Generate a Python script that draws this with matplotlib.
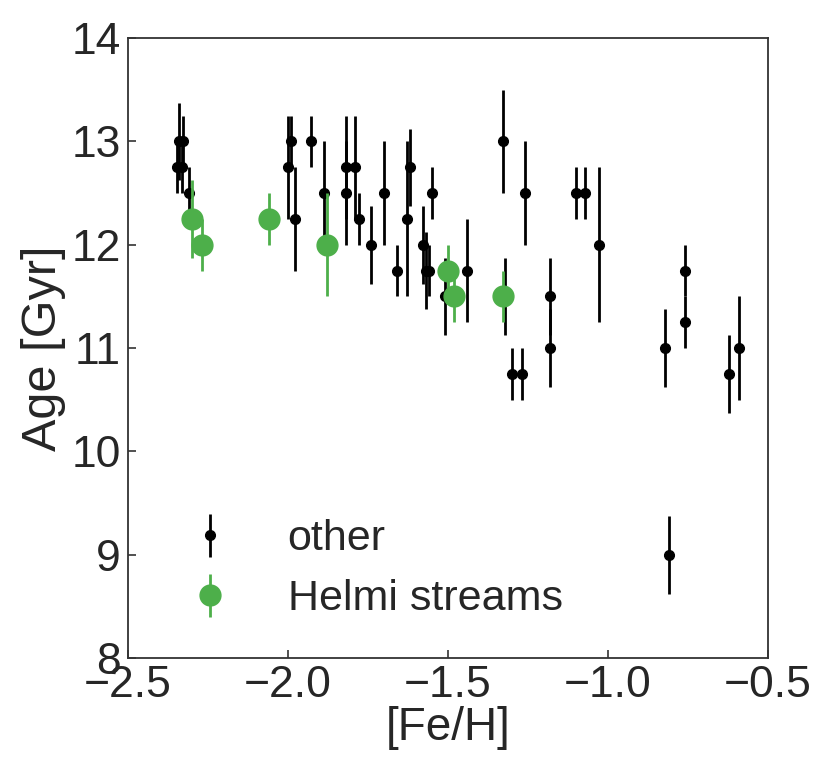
import matplotlib
matplotlib.use("Agg")
import matplotlib.pyplot as plt

# "other" globular clusters
other_feh = [-2.346, -2.330, -2.342, -2.328, -2.309,
             -1.999, -1.990, -1.979, -1.929, -1.888,
             -1.820, -1.820, -1.789, -1.778, -1.739,
             -1.700, -1.659, -1.629, -1.620, -1.579,
             -1.570, -1.559, -1.550, -1.509, -1.440,
             -1.329, -1.320, -1.299, -1.269, -1.260,
             -1.180, -1.180, -1.100, -1.070, -1.029,
             -0.821, -0.810, -0.760, -0.760, -0.621, -0.591]
other_age = [12.75, 12.75, 13.0, 13.0, 12.5,
             12.75, 13.0, 12.25, 13.0, 12.5,
             12.75, 12.5, 12.75, 12.25, 12.0,
             12.5, 11.75, 12.25, 12.75, 12.0,
             11.75, 11.75, 12.5, 11.5, 11.75,
             13.0, 11.5, 10.75, 10.75, 12.5,
             11.5, 11.0, 12.5, 12.5, 12.0,
             11.0, 9.0, 11.75, 11.25, 10.75, 11.0]
other_err = [0.25, 0.25, 0.375, 0.25, 0.25,
             0.5, 0.25, 0.5, 0.25, 0.5,
             0.5, 0.5, 0.5, 0.25, 0.375,
             0.5, 0.25, 0.75, 0.375, 0.375,
             0.375, 0.25, 0.25, 0.375, 0.5,
             0.5, 0.375, 0.25, 0.25, 0.5,
             0.375, 0.375, 0.25, 0.25, 0.75,
             0.375, 0.375, 0.25, 0.25, 0.375, 0.5]

# Helmi streams clusters
helmi_feh = [-2.299, -2.269, -2.059, -1.879, -1.500, -1.480, -1.329]
helmi_age = [12.25, 12.0, 12.25, 12.0, 11.75, 11.5, 11.5]
helmi_err = [0.38, 0.25, 0.25, 0.5, 0.25, 0.25, 0.25]

plt.rcParams['font.family'] = ['Liberation Sans', 'DejaVu Sans']
text_col = '#262626'

fig = plt.figure(figsize=(8.31, 7.78), dpi=100)
ax = fig.add_axes([0.154, 0.154, 0.770, 0.797])

ax.errorbar(other_feh, other_age, yerr=other_err, fmt='o', color='black',
            ms=7, elinewidth=2.0, capsize=0, label='other', zorder=2)
ax.errorbar(helmi_feh, helmi_age, yerr=helmi_err, fmt='o', color='#4daf4a',
            ms=15, elinewidth=2.0, capsize=0, label='Helmi streams', zorder=3)

ax.set_xlim(-2.5, -0.5)
ax.set_ylim(8, 14)
ax.set_xticks([-2.5, -2.0, -1.5, -1.0, -0.5])
ax.set_yticks([8, 9, 10, 11, 12, 13, 14])
ax.tick_params(direction='in', length=6, width=1.2, labelsize=32,
               colors='#333333', labelcolor=text_col, pad=5)
for s in ax.spines.values():
    s.set_linewidth(1.3)
    s.set_color('#333333')

ax.set_xlabel('[Fe/H]', fontsize=33, color=text_col, labelpad=0)
ax.set_ylabel('Age [Gyr]', fontsize=35, color=text_col, labelpad=4)

leg = ax.legend(loc='lower left', bbox_to_anchor=(0.0, 0.0), frameon=False,
                fontsize=31, handletextpad=0.81, labelspacing=0.47,
                labelcolor=text_col)

fig.savefig('out.png', dpi=100)
